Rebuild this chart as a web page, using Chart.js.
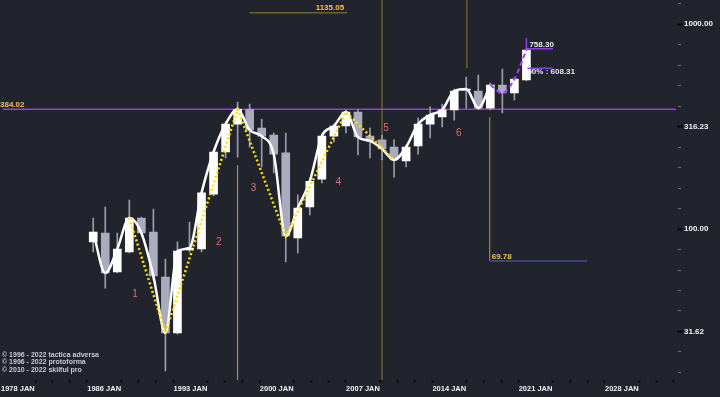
<!DOCTYPE html>
<html>
<head>
<meta charset="utf-8">
<script src="https://cdn.jsdelivr.net/npm/chart.js@4.4.1/dist/chart.umd.min.js"></script>
<style>
  html, body { margin: 0; padding: 0; background: #21242d; }
  #wrap { width: 720px; height: 397px; }
</style>
</head>
<body>
<div id="wrap"><canvas id="chart"></canvas></div>
<script>
// yearly candles, 1986 .. 2022
var years = [1986,1987,1988,1989,1990,1991,1992,1993,1994,1995,1996,1997,1998,1999,2000,2001,2002,2003,2004,
             2005,2006,2007,2008,2009,2010,2011,2012,2013,2014,2015,2016,2017,2018,2019,2020,2021,2022];
var open  = [86.4,95.6,61.7,77.2,113.2,96.7,58.3,31.1,79.0,79.9,148,237.5,325,384,311,287,235,90.4,128,
             175,284,318,372,284,272,251,215,254,325,352,381,476,471,389,504,461,533];
var high  = [113,128,95.6,138.5,114.4,125,71.4,86.6,108,151.5,243,333,416,407,344,294,294,146.6,177,
             291,325,381,381,311,287,272,257,348,394,407,482,551,564,515,603,545,758.3];
var low   = [77.2,51.5,61.0,76.4,93.5,56.4,20.3,30.7,77.2,77.2,145,222,224,251,201,188,69.0,76.4,117,
             168,266,294,230,222,217,179,201,232,278,315,340,389,385,381,368,426,527];
var close = [96.7,61.0,79.9,113.2,95.6,59.0,31.1,78.1,80.8,150,237.5,325,384,304,284,232,92.4,126.6,171,
             284,318,372,281,269,246,217,251,325,360,381,471,482,389,504,461,539,747];

// wave pivots (candle index) for the dotted zigzag
var pivots = [3, 6, 12, 16, 21, 25];
var waveNames = ['1', '2', '3', '4', '5', '6'];

// price levels drawn on the chart
var levelTop = 384.02;
var levelHigh = 1135.05;
var levelLow = 69.78;
var levelLast = 758.30;
var levelHalf = 608.31;

var xLabels = ['1978 JAN', '1986 JAN', '1993 JAN', '2000 JAN', '2007 JAN', '2014 JAN', '2021 JAN', '2028 JAN'];
var xLabelStart = -6.26, xLabelStep = 7.17;

var upColor = '#ffffff', downColor = '#aaacbe', wickColor = '#9a9cab';

var bodies = [], wicks = [], colors = [], closeLine = [], lastLine = [], zigzag = [];
for (var i = 0; i < years.length; i++) {
  bodies.push({x: i, y: [Math.min(open[i], close[i]), Math.max(open[i], close[i])]});
  wicks.push({x: i, y: [low[i], high[i]]});
  colors.push(close[i] >= open[i] ? upColor : downColor);
  if (i <= 33) closeLine.push({x: i, y: close[i]});
  if (i >= 33) lastLine.push({x: i, y: close[i]});
}
pivots.forEach(function(p) { zigzag.push({x: p, y: close[p]}); });

var lblFont = 'bold 8px "Liberation Sans"';

var overlay = {
  id: 'overlay',
  beforeDatasetsDraw: function(chart) {
    var ctx = chart.ctx, sx = chart.scales.x, sy = chart.scales.y, a = chart.chartArea;
    function line(x1, y1, x2, y2, color, w) {
      ctx.beginPath();
      ctx.strokeStyle = color;
      ctx.lineWidth = w;
      ctx.moveTo(x1, y1);
      ctx.lineTo(x2, y2);
      ctx.stroke();
    }
    ctx.save();
    var yTop = sy.getPixelForValue(levelTop);
    line(a.left, yTop, a.right, yTop, '#8f3fe3', 1.5);
    var yHigh = sy.getPixelForValue(levelHigh);
    line(sx.getPixelForValue(13), yHigh, sx.getPixelForValue(21.1), yHigh, '#6e6230', 1.5);
    line(sx.getPixelForValue(12), sy.getPixelForValue(205), sx.getPixelForValue(12), a.bottom, '#c9a227', 1);
    line(sx.getPixelForValue(24), a.top, sx.getPixelForValue(24), a.bottom, '#8f7d35', 1);
    line(sx.getPixelForValue(31.05), a.top, sx.getPixelForValue(31.05), sy.getPixelForValue(levelHalf), '#8f7d35', 1);
    var xl = sx.getPixelForValue(32.95), yl = sy.getPixelForValue(levelLow);
    line(xl, sy.getPixelForValue(352), xl, yl, '#b4952e', 1);
    line(xl, yl, sx.getPixelForValue(41.05), yl, '#4a4c9c', 1.5);
    ctx.restore();
  },
  afterDatasetsDraw: function(chart) {
    var ctx = chart.ctx, sx = chart.scales.x, sy = chart.scales.y, a = chart.chartArea;
    ctx.save();
    ctx.font = lblFont;
    ctx.textBaseline = 'middle';

    ctx.fillStyle = '#f2c14e';
    ctx.textAlign = 'left';
    ctx.fillText(levelTop.toFixed(2), 0, sy.getPixelForValue(levelTop) - 4);
    ctx.fillText(levelLow.toFixed(2), sx.getPixelForValue(32.95) + 2, sy.getPixelForValue(levelLow) - 4);
    ctx.textAlign = 'right';
    ctx.fillText(levelHigh.toFixed(2), sx.getPixelForValue(20.85), sy.getPixelForValue(levelHigh) - 5);

    // last swing markers
    var xa = sx.getPixelForValue(36), yLast = sy.getPixelForValue(levelLast), yHalf = sy.getPixelForValue(levelHalf);
    ctx.strokeStyle = '#8f3fe3';
    ctx.lineWidth = 1.5;
    ctx.beginPath();
    ctx.moveTo(xa, sy.getPixelForValue(854));
    ctx.lineTo(xa, yLast);
    ctx.lineTo(sx.getPixelForValue(38.2), yLast);
    ctx.moveTo(xa + 1, yHalf);
    ctx.lineTo(sx.getPixelForValue(38.1), yHalf);
    ctx.stroke();
    ctx.fillStyle = '#e8e8ee';
    ctx.textAlign = 'left';
    ctx.fillText(levelLast.toFixed(2), xa + 3, yLast - 4);
    ctx.fillText('50% : ' + levelHalf.toFixed(2), xa + 1, yHalf + 4);

    // wave counts
    var wavePos = [[3.48, 48.2], [10.43, 86.4], [13.33, 158.5], [20.36, 169], [24.34, 311], [30.38, 294]];
    ctx.font = '10px "Liberation Sans"';
    ctx.textAlign = 'center';
    waveNames.forEach(function(n, k) {
      ctx.fillStyle = '#e06b6b';
      ctx.fillText(n, sx.getPixelForValue(wavePos[k][0]), sy.getPixelForValue(wavePos[k][1]));
    });

    ctx.font = 'bold 7px "Liberation Sans"';
    ctx.fillStyle = '#c9cad3';
    ctx.textAlign = 'left';
    ctx.fillText('\u00a9 1996 - 2022 tactica adversa', 2, 355);
    ctx.fillText('\u00a9 1996 - 2022 protoforma', 2, 362.5);
    ctx.fillText('\u00a9 2010 - 2022 skilful pro', 2, 370);
    ctx.restore();
  }
};

new Chart(document.getElementById('chart'), {
  data: {
    datasets: [
      {
        type: 'bar',
        data: wicks,
        backgroundColor: wickColor,
        barThickness: 1,
        grouped: false,
        order: 5
      },
      {
        type: 'bar',
        data: bodies,
        backgroundColor: colors,
        barThickness: 8,
        grouped: false,
        order: 4
      },
      {
        type: 'line',
        data: closeLine,
        borderColor: '#ffffff',
        borderWidth: 2.5,
        pointRadius: 0,
        cubicInterpolationMode: 'monotone',
        order: 3
      },
      {
        type: 'line',
        data: zigzag,
        borderColor: '#ffe100',
        borderWidth: 2.5,
        borderDash: [2, 2.5],
        pointRadius: 0,
        order: 2
      },
      {
        type: 'line',
        data: lastLine,
        borderColor: '#9d3cff',
        borderWidth: 2,
        borderDash: [5, 3],
        pointRadius: 0,
        cubicInterpolationMode: 'monotone',
        order: 1
      }
    ]
  },
  options: {
    responsive: true,
    maintainAspectRatio: false,
    animation: false,
    layout: { padding: 0 },
    plugins: {
      legend: { display: false },
      tooltip: { enabled: false }
    },
    scales: {
      x: {
        type: 'linear',
        offset: false,
        min: -7.53,
        max: 48.43,
        bounds: 'data',
        border: { display: false },
        grid: {
          offset: false,
          drawOnChartArea: false,
          tickLength: 3,
          tickWidth: 2,
          tickColor: function(c) { return c.tick && c.tick.major ? 'rgba(0,0,0,0)' : '#0c0d11'; }
        },
        afterBuildTicks: function(s) {
          var t = [];
          for (var k = -5; k < 40; k++) {
            var v = xLabelStart + k * xLabelStep / 5;
            if (v < s.min || v > s.max) continue;
            t.push({value: v, major: k % 5 === 0, label: k % 5 === 0 ? xLabels[k / 5] : ''});
          }
          s.ticks = t;
        },
        afterFit: function(s) { s.height = 17; },
        ticks: {
          autoSkip: false,
          maxRotation: 0,
          padding: 1,
          color: '#f2f2f2',
          font: { family: 'Liberation Sans', size: 7.5, weight: 'bold' },
          callback: function(v, i, t) { return t[i].label; }
        }
      },
      y: {
        type: 'logarithmic',
        position: 'right',
        min: 18.34,
        max: 1309.6,
        bounds: 'data',
        border: { display: false },
        grid: {
          drawOnChartArea: false,
          tickLength: 8,
          tickWidth: function(c) { return c.tick && c.tick.major ? 2 : 1; },
          tickColor: function(c) { return c.tick && c.tick.major ? '#08090c' : '#6d6f78'; },
          tickBorderDash: function(c) { return c.tick && c.tick.major ? [0, 1, 6, 10] : [0, 2, 3, 20]; }
        },
        afterBuildTicks: function(s) {
          var t = [];
          for (var k = 13; k <= 31; k++) {
            t.push({value: Math.pow(10, k / 10), major: k % 5 === 0});
          }
          s.ticks = t;
        },
        afterFit: function(s) { s.width = 44; },
        ticks: {
          autoSkip: false,
          padding: 0,
          color: '#f2f2f2',
          font: function(c) {
            var major = c.tick && c.tick.major;
            return { family: 'Liberation Sans', size: major ? 8 : 1, lineHeight: major ? 1.2 : 0, weight: 'bold' };
          },
          callback: function(v, i, t) { return t[i].major ? v.toFixed(2) : ''; }
        }
      }
    }
  },
  plugins: [overlay]
});
</script>
</body>
</html>
